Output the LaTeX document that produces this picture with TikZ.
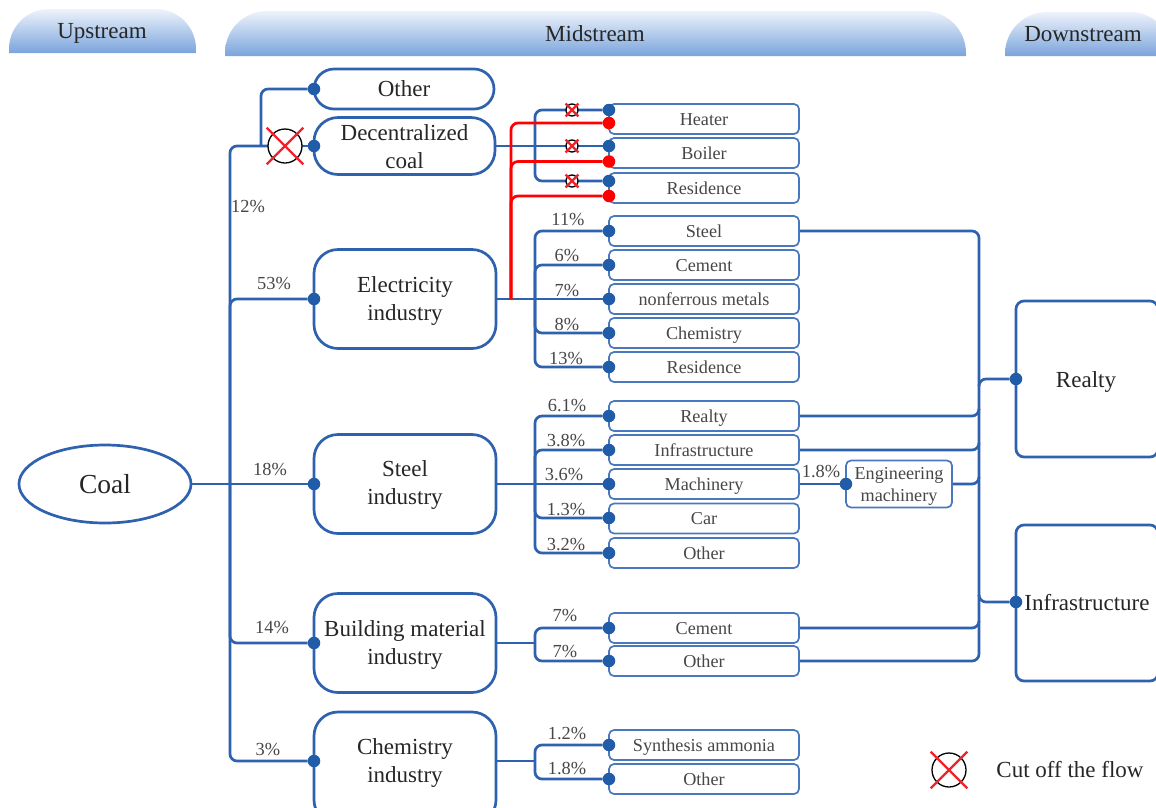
\documentclass[tikz,border=0pt]{standalone}
\usepackage{fontspec}
\setmainfont{Liberation Serif}
\usetikzlibrary{shapes.geometric}
\definecolor{wireblue}{HTML}{2F62AE}
\definecolor{dotblue}{HTML}{215CA9}
\definecolor{thinblue}{HTML}{4A78BE}
\definecolor{tabblue}{HTML}{7AA4DC}
\definecolor{tabtop}{HTML}{EEF3FB}
\definecolor{txt}{HTML}{262626}
\definecolor{cutred}{HTML}{F0222A}
\tikzset{
  wire/.style={draw=wireblue,line width=2.7pt,rounded corners=7pt},
  redwire/.style={draw=red,line width=2.7pt,rounded corners=7pt},
  dot/.style={circle,fill=dotblue,inner sep=0pt,minimum size=12.5pt},
  reddot/.style={circle,fill=red,inner sep=0pt,minimum size=12.5pt},
  bigbox/.style={draw=wireblue,line width=2.7pt,rounded corners=24pt,fill=white,inner sep=0pt},
  boxtext/.style={align=center,font=\fontsize{23}{28}\selectfont,text=txt,inner sep=0pt},
  smallbox/.style={draw=thinblue,line width=1.7pt,rounded corners=5pt,fill=white,minimum width=190pt,minimum height=30pt,font=\fontsize{18.2}{22}\selectfont,text=txt!85!white,inner sep=0pt,text height=14.2pt,text depth=2.2pt},
  pct/.style={font=\fontsize{18.4}{22}\selectfont,text=txt!85!white,inner sep=0pt},
  tab/.style={top color=tabtop,bottom color=tabblue},
}
\newcommand{\cutmark}[3]{%
  \node[circle,draw=black,line width=1.3pt,fill=white,minimum size=#3*2pt,inner sep=0pt] (#1) at (#2) {};
  \draw[cutred,line width=2.3pt] (#1.center) ++({-#3*1.08},{-#3*1.08}) -- ++({#3*2.16},{#3*2.16});
  \draw[cutred,line width=2.3pt] (#1.center) ++({#3*1.08},{-#3*1.08}) -- ++({-#3*2.16},{#3*2.16});
}
\begin{document}
\begin{tikzpicture}[x=1pt,y=-1pt]
\clip (0,0) rectangle (1156,807);
\fill[white] (0,0) rectangle (1156,807);

% header tabs
\shade[tab] (9,53) [rounded corners=40pt] -- (9,9) -- (196,9) [sharp corners] -- (196,53) -- cycle;
\shade[tab] (225,56) [rounded corners=42pt] -- (225,11) -- (966,11) [sharp corners] -- (966,56) -- cycle;
\shade[tab] (1005,56) [rounded corners=42pt] -- (1005,12) -- (1172,12) [sharp corners] -- (1172,56) -- cycle;
\node[boxtext] (up) at (102,33) {Upstream};
\node[boxtext] (mid) at (595,34) {Midstream};
\node[boxtext] (down) at (1083,34) {Downstream};

% bus coordinates
\coordinate (main) at (230,484);
\coordinate (mainTop) at (230,146);
\coordinate (mainEnd) at (230,761);
\coordinate (xIn) at (268,146);
\coordinate (otherBus) at (261,146);
\coordinate (decBus) at (535,146);
\coordinate (redBus) at (511,299);
\coordinate (elBus) at (535,299);
\coordinate (stBus) at (535,484);
\coordinate (buBus) at (535,643);
\coordinate (chOut) at (496,761);
\coordinate (chBus) at (535,761);
\coordinate (rightBus) at (979,484);
\coordinate (realtyBus) at (979,385);
\coordinate (infraBus) at (979,596);
\coordinate (jRealty) at (979,410);
\coordinate (jInfra) at (979,444);
\coordinate (jEng) at (979,478);
\coordinate (jCement) at (979,622);

% big boxes
\node[bigbox,minimum width=180pt,minimum height=40pt,rounded corners=20pt] (other) at (404,89) {};
\node[bigbox,minimum width=181pt,minimum height=57pt] (dec) at (404.5,146) {};
\node[bigbox,minimum width=182pt,minimum height=99pt] (el) at (405,299) {};
\node[bigbox,minimum width=182pt,minimum height=99pt] (st) at (405,484) {};
\node[bigbox,minimum width=182pt,minimum height=99pt] (bu) at (405,643) {};
\node[bigbox,minimum width=182pt,minimum height=112pt] (ch) at (405,768) {};
\node[boxtext] (otherT) at (404,89) {Other};
\node[boxtext] (decT) at (404.5,146.5) {Decentralized\\coal};
\node[boxtext] (elT) at (405,300.5) {Electricity\\industry};
\node[boxtext] (stT) at (405,484.5) {Steel\\industry};
\node[boxtext] (buT) at (405,644.5) {Building material\\industry};
\node[boxtext] (chT) at (405,763) {Chemistry\\industry};
\node[ellipse,draw=wireblue,line width=2.7pt,fill=white,minimum width=172pt,minimum height=78pt,inner sep=0pt,font=\fontsize{27.5}{30}\selectfont,text=txt] (coal) at (105,484) {Coal};

% small boxes
\node[smallbox] (heater) at (704,119) {Heater};
\node[smallbox] (boiler) at (704,153) {Boiler};
\node[smallbox] (resA) at (704,188) {Residence};
\node[smallbox] (elSteel) at (704,231) {Steel};
\node[smallbox] (elCement) at (704,265) {Cement};
\node[smallbox] (elMetal) at (704,299) {nonferrous metals};
\node[smallbox] (elChem) at (704,333) {Chemistry};
\node[smallbox] (elRes) at (704,367) {Residence};
\node[smallbox] (stRealty) at (704,416) {Realty};
\node[smallbox] (stInfra) at (704,450) {Infrastructure};
\node[smallbox] (stMach) at (704,484) {Machinery};
\node[smallbox] (stCar) at (704,518.5) {Car};
\node[smallbox] (stOther) at (704,553) {Other};
\node[smallbox] (buCement) at (704,628) {Cement};
\node[smallbox] (buOther) at (704,661) {Other};
\node[smallbox] (chAmm) at (704,745) {Synthesis ammonia};
\node[smallbox] (chOther) at (704,779) {Other};
\node[draw=thinblue,line width=1.7pt,rounded corners=5pt,fill=white,minimum width=106pt,minimum height=47pt,inner sep=0pt] (eng) at (899,484) {};
\node[align=center,font=\fontsize{18.2}{22}\selectfont,text=txt!85!white,inner sep=0pt] (engT) at (899,486) {Engineering\\machinery};

% downstream boxes
\node[bigbox,minimum width=142pt,minimum height=156pt,rounded corners=8pt] (realty) at (1087,379) {};
\node[bigbox,minimum width=142pt,minimum height=156pt,rounded corners=8pt] (infra) at (1087,603) {};
\node[boxtext] (realtyT) at (1086,381.5) {Realty};
\node[boxtext] (infraT) at (1087,603) {Infrastructure};

% dots
\node[dot] (dOther) at (314,89) {};
\node[dot] (dDec) at (314,146) {};
\node[dot] (dEl) at (314,299) {};
\node[dot] (dSt) at (314,484) {};
\node[dot] (dBu) at (314,643) {};
\node[dot] (dCh) at (314,761) {};
\foreach \n/\yy in {b1/110,b2/146,b3/181,e1/231,e2/265,e3/299,e4/333,e5/367,s1/416,s2/450,s3/484,s4/518,s5/553,u1/628,u2/661,c1/745,c2/779}
  \node[dot] (\n) at (609,\yy) {};
\node[reddot] (r1) at (609,123) {};
\node[reddot] (r2) at (609,161.5) {};
\node[reddot] (r3) at (609,196) {};
\node[dot] (dEng) at (846,484) {};
\node[dot] (dRealty) at (1016,379) {};
\node[dot] (dInfra) at (1016,602) {};

% wires
\draw[wire] (xIn) -- (mainTop) -- (mainEnd) -- (dCh);
\draw[wire] (main) |- (dEl);
\draw[wire] (main) |- (dBu);
\draw[wire] (otherBus) |- (dOther);
\draw[wire] (xIn) -- (dDec);
\draw[wire] (coal) -- (dSt);
\draw[wire] (dec.east) -- (b2);
\draw[wire] (decBus) |- (b1);
\draw[wire] (decBus) |- (b3);
\draw[wire] (el.east) -- (e3);
\draw[wire] (elBus) |- (e1);
\draw[wire] (elBus) |- (e2);
\draw[wire] (elBus) |- (e4);
\draw[wire] (elBus) |- (e5);
\draw[redwire] (redBus) |- (r1);
\draw[redwire] (redBus) |- (r2);
\draw[redwire] (redBus) |- (r3);
\draw[wire] (st.east) -- (s3);
\draw[wire] (stBus) |- (s1);
\draw[wire] (stBus) |- (s2);
\draw[wire] (stBus) |- (s4);
\draw[wire] (stBus) |- (s5);
\draw[wire] (bu.east) -- (buBus);
\draw[wire] (buBus) |- (u1);
\draw[wire] (buBus) |- (u2);
\draw[wire] (chOut) -- (chBus);
\draw[wire] (chBus) |- (c1);
\draw[wire] (chBus) |- (c2);
\draw[wire] (elSteel.east) -| (rightBus);
\draw[wire] (buOther.east) -| (rightBus);
\draw[wire] (stRealty.east) -| (jRealty);
\draw[wire] (stInfra.east) -| (jInfra);
\draw[wire] (eng.east) -| (jEng);
\draw[wire] (buCement.east) -| (jCement);
\draw[wire] (stMach.east) -- (dEng);
\draw[wire] (realtyBus) |- (dRealty);
\draw[wire] (infraBus) |- (dInfra);

% cut marks
\cutmark{xMain}{285,146}{17}
\cutmark{xA}{572,110}{6}
\cutmark{xB}{572,146}{6}
\cutmark{xC}{572,181}{6}
\cutmark{xLeg}{949,770}{17}
\node[boxtext] (legend) at (1070,769) {Cut off the flow};

% percent labels
\node[pct] (p12) at (248,206) {12\%};
\node[pct] (p53) at (274,283) {53\%};
\node[pct] (p18) at (270,469) {18\%};
\node[pct] (p14) at (272,627) {14\%};
\node[pct] (p3) at (268,749) {3\%};
\node[pct] (pe1) at (568,219) {11\%};
\node[pct] (pe2) at (567,255) {6\%};
\node[pct] (pe3) at (567,290) {7\%};
\node[pct] (pe4) at (567,324) {8\%};
\node[pct] (pe5) at (566,358) {13\%};
\node[pct] (ps1) at (567,406) {6.1\%};
\node[pct] (ps2) at (566,441) {3.8\%};
\node[pct] (ps3) at (564,475) {3.6\%};
\node[pct] (ps4) at (566,509) {1.3\%};
\node[pct] (ps5) at (566,544) {3.2\%};
\node[pct] (pu1) at (565,615) {7\%};
\node[pct] (pu2) at (565,651) {7\%};
\node[pct] (pc1) at (567,733) {1.2\%};
\node[pct] (pc2) at (567,768) {1.8\%};
\node[pct] (pm) at (821,472) {1.8\%};
\end{tikzpicture}
\end{document}
